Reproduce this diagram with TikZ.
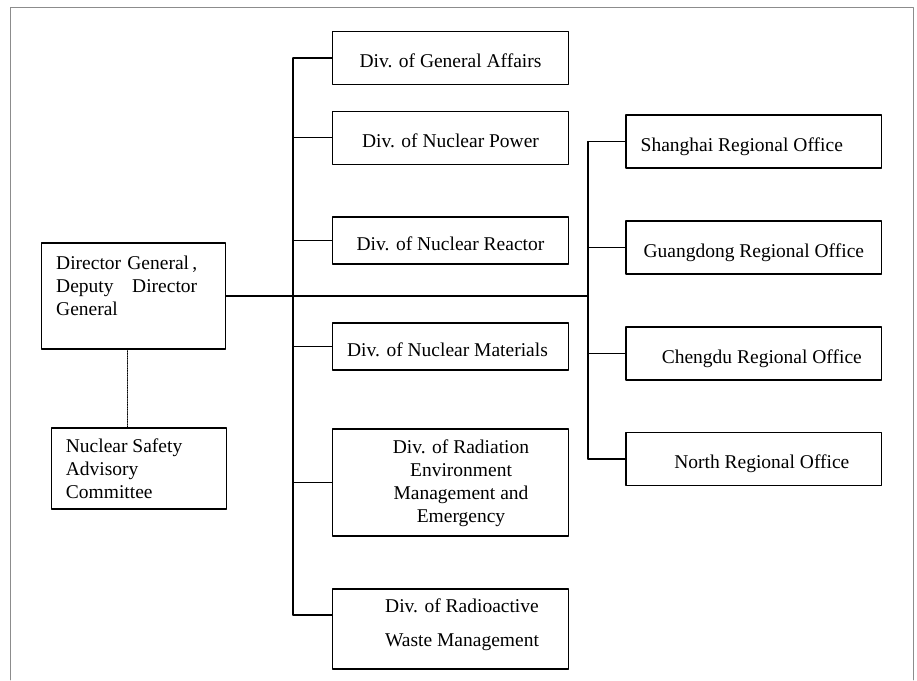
\documentclass[tikz,border=0pt]{standalone}
\usepackage{fontspec}
\setmainfont{Liberation Serif}
\newcommand{\chartfont}{\fontsize{19.5}{23}\selectfont}
\newcommand{\rows}[2][c]{\begin{tabular}[t]{@{}#1@{}}#2\end{tabular}}
\begin{document}
\begin{tikzpicture}[x=1pt, y=-1pt, line cap=round, line join=round]

    \colorlet{framegray}{black!45}

    \tikzset{
      unitbox/.style={draw, line width=1.1pt, inner sep=0pt, font=\chartfont},
      onerow/.style={text height=19pt, text depth=0pt},
      divbox/.style={unitbox, onerow, minimum width=236.4pt, minimum height=#1},
      officebox/.style={unitbox, onerow, minimum width=255.7pt, minimum height=53pt},
      link/.style={line width=1.1pt},
      advlink/.style={line width=0.7pt, densely dotted}
    }

    \useasboundingbox (0,0) rectangle (917,680);
    \draw[framegray, line width=0.6pt] (10,680) -- (10,7) -- (913,7) -- (913,680);

    \node[unitbox, minimum width=184pt, minimum height=106pt,
          text height=14pt, text depth=67pt] (director) at (133.7,296)
      {\rows[l]{\makebox[141pt][s]{Director General\,,}\\
                \makebox[141pt][s]{Deputy Director}\\ General}\hspace*{14pt}};
    \node[unitbox, minimum width=174.3pt, minimum height=81pt,
          text height=14pt, text depth=46pt] (committee) at (138.9,468.5)
      {\rows[p{146pt}]{Nuclear Safety\\ Advisory\\ Committee}};

    \node[divbox=52.6pt] (genaff)    at (450.5,58)    {Div. of General Affairs};
    \node[divbox=53.3pt] (power)     at (450.5,137.7) {Div. of Nuclear Power};
    \node[divbox=47pt]   (reactor)   at (450.5,240.5) {Div. of Nuclear Reactor};
    \node[divbox=47pt]   (materials) at (450.5,346.5) {\hspace*{-6pt}Div. of Nuclear Materials};
    \node[unitbox, minimum width=236.4pt, minimum height=107pt,
          text height=14pt, text depth=72pt] (radiation) at (450.5,482.5)
      {\hspace*{21pt}\rows{Div. of Radiation\\ Environment\\ Management and\\ Emergency}};
    \node[unitbox, minimum width=236.4pt, minimum height=80pt,
          text height=14pt, text depth=47pt] (waste) at (450.5,629)
      {\hspace*{23pt}\rows{Div. of Radioactive\\[11pt] Waste Management}};

    \node[officebox] (shanghai)  at (753.8,141.5) {\hspace*{-24pt}Shanghai Regional Office};
    \node[officebox] (guangdong) at (753.8,247.5) {Guangdong Regional Office};
    \node[officebox] (chengdu)   at (753.8,353.5) {\hspace*{16pt}Chengdu Regional Office};
    \node[officebox] (north)     at (753.8,459)   {\hspace*{16pt}North Regional Office};

    \coordinate (mbus) at (293,0);
    \coordinate (rbus) at (588,0);
    \coordinate (dotx) at (127.5,0);
    \coordinate (wastein) at ([yshift=14pt]waste.west);

    \draw[link] (director.east) -- (director.east -| rbus);
    \foreach \n in {genaff,power,reactor,materials,radiation,wastein}
      \draw[link] (\n) -- (\n -| mbus);
    \draw[link] (genaff.west -| mbus) -- (wastein -| mbus);
    \foreach \n in {shanghai,guangdong,chengdu,north}
      \draw[link] (\n.west) -- (\n.west -| rbus);
    \draw[link] (shanghai.west -| rbus) -- (north.west -| rbus);

    \draw[advlink] (director.south -| dotx) -- (committee.north -| dotx);

\end{tikzpicture}
\end{document}
